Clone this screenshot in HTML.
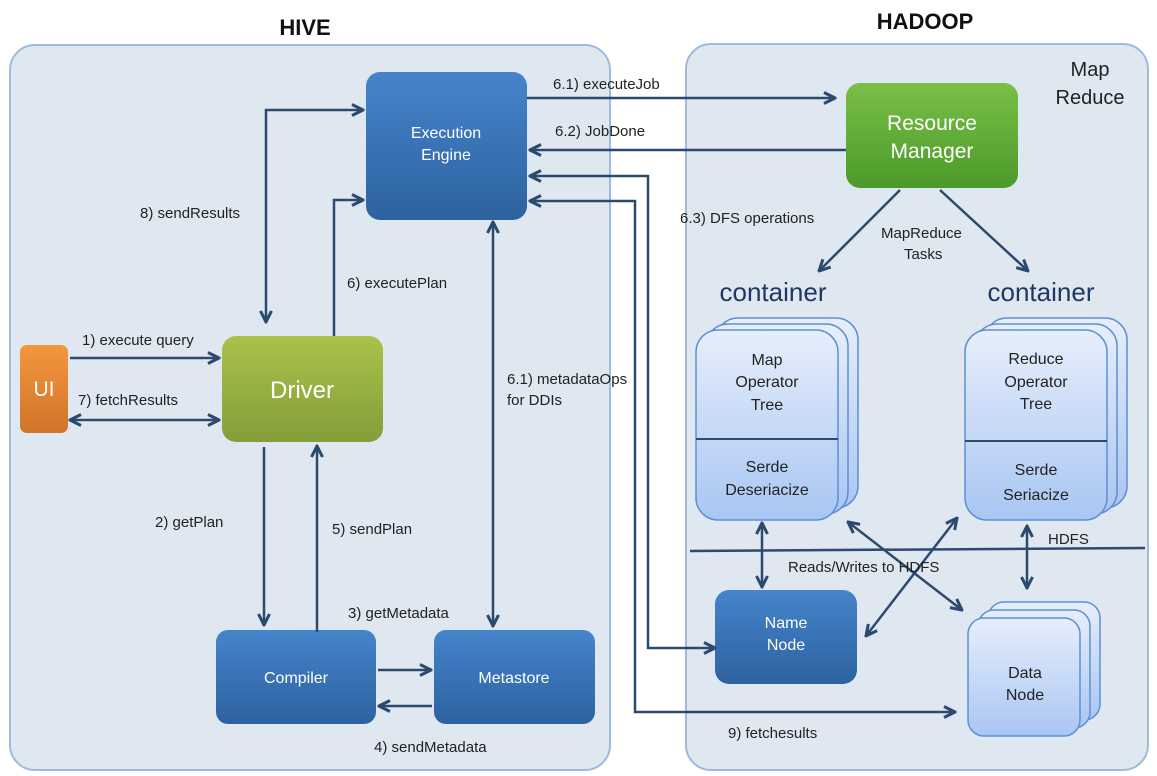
<!DOCTYPE html>
<html><head><meta charset="utf-8"><style>
body{margin:0;background:#fff;}
svg{display:block;font-family:"Liberation Sans",sans-serif;}
</style></head><body>
<svg width="1157" height="776" viewBox="0 0 1157 776" xmlns="http://www.w3.org/2000/svg">
<defs>
<linearGradient id="blue" x1="0" y1="0" x2="0" y2="1"><stop offset="0" stop-color="#4684cb"/><stop offset="1" stop-color="#2d62a0"/></linearGradient>
<linearGradient id="green" x1="0" y1="0" x2="0" y2="1"><stop offset="0" stop-color="#79bf47"/><stop offset="1" stop-color="#4c9a2b"/></linearGradient>
<linearGradient id="olive" x1="0" y1="0" x2="0" y2="1"><stop offset="0" stop-color="#a9c24a"/><stop offset="1" stop-color="#849e3a"/></linearGradient>
<linearGradient id="orange" x1="0" y1="0" x2="0" y2="1"><stop offset="0" stop-color="#f4963e"/><stop offset="1" stop-color="#d2742a"/></linearGradient>
<linearGradient id="light" x1="0" y1="0" x2="0" y2="1"><stop offset="0" stop-color="#e6eefb"/><stop offset="1" stop-color="#a9c6f3"/></linearGradient>
<marker id="a" viewBox="0 0 10 10" refX="9" refY="5" markerWidth="5.5" markerHeight="5.5" orient="auto-start-reverse"><path d="M1,1 L9,5 L1,9" fill="none" stroke="#2b4a6e" stroke-width="2.2"/></marker>
</defs>
<g stroke="#9dbbdc" stroke-width="2" fill="#dfe7f1">
<rect x="10" y="45" width="600" height="725" rx="25"/>
<rect x="686" y="44" width="462" height="726" rx="25"/>
</g>
<text x="305" y="35" font-size="22" font-weight="bold" text-anchor="middle" fill="#111">HIVE</text>
<text x="925" y="29" font-size="22" font-weight="bold" text-anchor="middle" fill="#111">HADOOP</text>
<text x="1090" y="76" font-size="20" text-anchor="middle" fill="#222">Map</text>
<text x="1090" y="104" font-size="20" text-anchor="middle" fill="#222">Reduce</text>

<rect x="366" y="72" width="161" height="148" rx="14" fill="url(#blue)"/>
<text x="446" y="138" font-size="16" fill="#fff" text-anchor="middle">Execution</text>
<text x="446" y="160" font-size="16" fill="#fff" text-anchor="middle">Engine</text>
<rect x="846" y="83" width="172" height="105" rx="14" fill="url(#green)"/>
<text x="932" y="130" font-size="21" fill="#fff" text-anchor="middle">Resource</text>
<text x="932" y="158" font-size="21" fill="#fff" text-anchor="middle">Manager</text>
<rect x="222" y="336" width="161" height="106" rx="14" fill="url(#olive)"/>
<text x="302" y="398" font-size="24" fill="#fff" text-anchor="middle">Driver</text>
<rect x="20" y="345" width="48" height="88" rx="7" fill="url(#orange)"/>
<text x="44" y="396" font-size="21" fill="#fff" text-anchor="middle">UI</text>
<rect x="216" y="630" width="160" height="94" rx="12" fill="url(#blue)"/>
<text x="296" y="683" font-size="16" fill="#fff" text-anchor="middle">Compiler</text>
<rect x="434" y="630" width="161" height="94" rx="12" fill="url(#blue)"/>
<text x="514" y="683" font-size="16" fill="#fff" text-anchor="middle">Metastore</text>
<rect x="715" y="590" width="142" height="94" rx="14" fill="url(#blue)"/>
<text x="786" y="628" font-size="16" fill="#fff" text-anchor="middle">Name</text>
<text x="786" y="650" font-size="16" fill="#fff" text-anchor="middle">Node</text>

<g stroke="#5f8fcf" stroke-width="1.5" fill="url(#light)">
<rect x="988" y="602" width="112" height="118" rx="16"/>
<rect x="978" y="610" width="112" height="118" rx="16"/>
<rect x="968" y="618" width="112" height="118" rx="16"/>
<rect x="716" y="318" width="142" height="190" rx="22"/>
<rect x="706" y="324" width="142" height="190" rx="22"/>
<rect x="696" y="330" width="142" height="190" rx="22"/>
<rect x="985" y="318" width="142" height="190" rx="22"/>
<rect x="975" y="324" width="142" height="190" rx="22"/>
<rect x="965" y="330" width="142" height="190" rx="22"/>
</g>
<line x1="696" y1="439" x2="838" y2="439" stroke="#2b4a6e" stroke-width="2"/>
<line x1="965" y1="441" x2="1107" y2="441" stroke="#2b4a6e" stroke-width="2"/>
<g font-size="16" fill="#222" text-anchor="middle">
<text x="767" y="365">Map</text><text x="767" y="387">Operator</text><text x="767" y="410">Tree</text>
<text x="767" y="472">Serde</text><text x="767" y="495">Deseriacize</text>
<text x="1036" y="364">Reduce</text><text x="1036" y="387">Operator</text><text x="1036" y="409">Tree</text>
<text x="1036" y="475">Serde</text><text x="1036" y="500">Seriacize</text>
<text x="1025" y="678">Data</text><text x="1025" y="700">Node</text>
</g>
<text x="773" y="301" font-size="26" fill="#1d3864" text-anchor="middle">container</text>
<text x="1041" y="301" font-size="26" fill="#1d3864" text-anchor="middle">container</text>
<line x1="690" y1="551" x2="1145" y2="548" stroke="#2b4a6e" stroke-width="2.5"/>

<g stroke="#2b4a6e" stroke-width="2.5" fill="none" marker-end="url(#a)">
<path d="M527,98 H835"/>
<path d="M846,150 H530"/>
<path d="M715,648 H648 V176 H530" marker-start="url(#a)"/>
<path d="M955,712 H635 V201 H530" marker-start="url(#a)"/>
<path d="M493,222 V626" marker-start="url(#a)"/>
<path d="M266,322 V110 H363" marker-start="url(#a)"/>
<path d="M334,336 V200 H363"/>
<path d="M70,358 H219"/>
<path d="M70,420 H219" marker-start="url(#a)"/>
<path d="M264,447 V625"/>
<path d="M317,632 V446"/>
<path d="M378,670 H431"/>
<path d="M432,706 H379"/>
<path d="M900,190 L819,271"/>
<path d="M940,190 L1028,271"/>
<path d="M762,523 V587" marker-start="url(#a)"/>
<path d="M848,522 L962,610" marker-start="url(#a)"/>
<path d="M957,518 L866,636" marker-start="url(#a)"/>
<path d="M1027,526 V588" marker-start="url(#a)"/>
</g>
<g font-size="15" fill="#222">
<text x="553" y="89">6.1) executeJob</text>
<text x="555" y="136">6.2) JobDone</text>
<text x="680" y="223">6.3) DFS operations</text>
<text x="881" y="238">MapReduce</text>
<text x="904" y="259">Tasks</text>
<text x="140" y="218">8) sendResults</text>
<text x="347" y="288">6) executePlan</text>
<text x="82" y="345">1) execute query</text>
<text x="78" y="405">7) fetchResults</text>
<text x="507" y="384">6.1)  metadataOps</text>
<text x="507" y="405">for DDIs</text>
<text x="155" y="527">2) getPlan</text>
<text x="332" y="534">5) sendPlan</text>
<text x="348" y="618">3) getMetadata</text>
<text x="374" y="752">4) sendMetadata</text>
<text x="788" y="572">Reads/Writes to HDFS</text>
<text x="1048" y="544">HDFS</text>
<text x="728" y="738">9) fetchesults</text>
</g>
</svg>
</body></html>
